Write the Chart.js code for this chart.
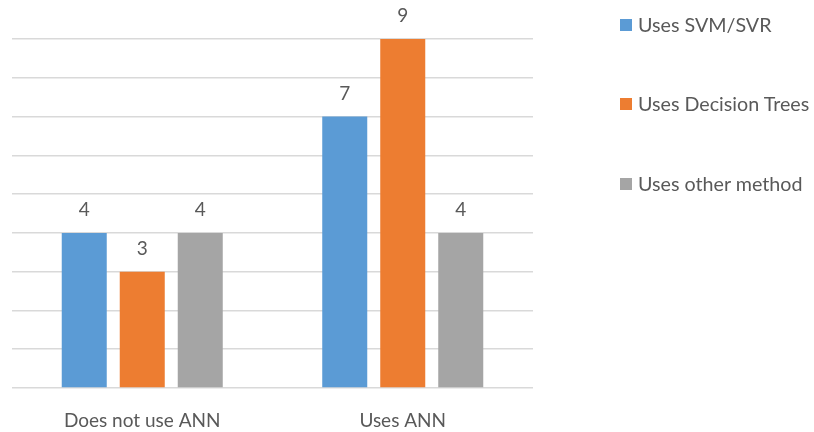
<!DOCTYPE html>
<html>
<head>
<meta charset="utf-8">
<script src="https://cdn.jsdelivr.net/npm/chart.js@4.4.1/dist/chart.umd.min.js"></script>
<style>
  html, body { margin: 0; padding: 0; background: #fff; }
  #wrap { position: relative; width: 814px; height: 432px; }
  #legend { position: absolute; left: 620px; top: 0; font-family: Lato, "Open Sans", sans-serif; font-size: 19.7px; color: #595959; }
  .item { position: absolute; white-space: nowrap; display: flex; align-items: center; left: 0; }
  .sw { width: 12px; height: 12px; margin-right: 6px; flex: none; }
</style>
</head>
<body>
<div id="wrap">
  <canvas id="c" width="814" height="432"></canvas>
  <div id="legend"></div>
</div>
<script>
const categories = ["Does not use ANN", "Uses ANN"];
const seriesNames = ["Uses SVM/SVR", "Uses Decision Trees", "Uses other method"];
const svmValues = [4, 7];
const treeValues = [3, 9];
const otherValues = [4, 4];
const colors = ["#5B9BD5", "#ED7D31", "#A5A5A5"];
const FONT = "Lato, 'Open Sans', sans-serif";
const TEXT = "#595959";

const valueLabels = {
  id: "valueLabels",
  afterDatasetsDraw(chart) {
    const ctx = chart.ctx;
    ctx.save();
    ctx.font = "19px " + FONT;
    ctx.fillStyle = TEXT;
    ctx.textAlign = "center";
    ctx.textBaseline = "alphabetic";
    chart.data.datasets.forEach((ds, di) => {
      const meta = chart.getDatasetMeta(di);
      meta.data.forEach((bar, i) => {
        ctx.fillText(String(ds.data[i]), bar.x, bar.y - 17);
      });
    });
    ctx.restore();
  }
};

const seriesValues = [svmValues, treeValues, otherValues];
new Chart(document.getElementById("c"), {
  type: "bar",
  data: {
    labels: categories,
    datasets: seriesNames.map((n, i) => ({
      label: n,
      data: seriesValues[i],
      backgroundColor: colors[i],
      borderWidth: 0,
      categoryPercentage: 0.668,
      barPercentage: 0.776
    }))
  },
  options: {
    responsive: false,
    animation: false,
    devicePixelRatio: 1,
    layout: { padding: { left: 12, right: 281, top: 39, bottom: 0 } },
    plugins: { legend: { display: false }, tooltip: { enabled: false } },
    scales: {
      x: {
        grid: { display: false },
        border: { display: false },
        ticks: { color: TEXT, font: { family: FONT, size: 19 }, padding: 13 },
        afterFit(s) { s.height = 44; }
      },
      y: {
        min: 0, max: 9,
        ticks: { display: false, stepSize: 1 },
        grid: { color: "#D9D9D9", lineWidth: 1.5, drawTicks: false },
        border: { display: false }
      }
    }
  },
  plugins: [valueLabels]
});

const leg = document.getElementById("legend");
const legendTops = [13, 92, 172];
seriesNames.forEach((n, i) => {
  const d = document.createElement("div");
  d.className = "item";
  d.style.top = legendTops[i] + "px";
  d.innerHTML = '<span class="sw" style="background:' + colors[i] + '"></span><span>' + n + '</span>';
  leg.appendChild(d);
});
</script>
</body>
</html>
